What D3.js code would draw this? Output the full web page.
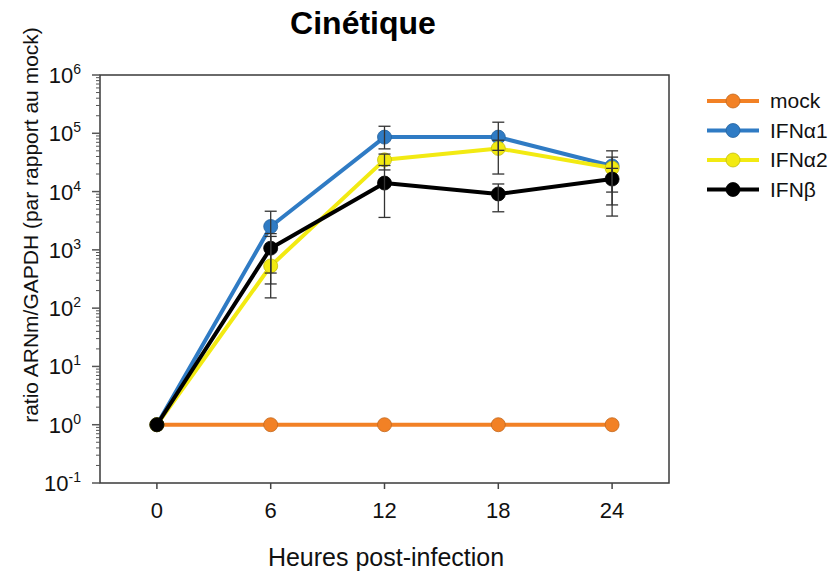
<!DOCTYPE html>
<html>
<head>
<meta charset="utf-8">
<script src="https://cdn.jsdelivr.net/npm/d3@7"></script>
<style>
  body { margin: 0; background: #fff; }
  text { font-family: "Liberation Sans", Arial, sans-serif; }
</style>
</head>
<body>
<div id="chart"></div>
<script>
// Data
const hours = [0, 6, 12, 18, 24];
const seriesNames = ["mock", "IFNα1", "IFNα2", "IFNβ"];
const seriesColors = ["#F28125", "#2F7BC4", "#F2EA12", "#000000"];

const mockValues = [1, 1, 1, 1, 1];
const ifna1Values = [1, 2520, 86000, 86000, 27500];
const ifna2Values = [1, 530, 35000, 55000, 25300];
const ifnbValues = [1, 1070, 14000, 9100, 16400];

// error bar ends (low / high), null where no bar
const ifna1Low = [null, 400, 54000, 51000, 5900];
const ifna1High = [null, 4600, 132000, 155000, 50000];
const ifna2Low = [null, 150, 23500, 20000, 9800];
const ifna2High = [null, 1700, 44000, 76000, 39000];
const ifnbLow = [null, 260, 3600, 4500, 3800];
const ifnbHigh = [null, 1900, 28000, 13500, 25000];

const yTickExps = [-1, 0, 1, 2, 3, 4, 5, 6];

const series = [
    { name: seriesNames[0], color: seriesColors[0], values: mockValues, low: null, high: null },
    { name: seriesNames[1], color: seriesColors[1], values: ifna1Values, low: ifna1Low, high: ifna1High },
    { name: seriesNames[2], color: seriesColors[2], values: ifna2Values, low: ifna2Low, high: ifna2High },
    { name: seriesNames[3], color: seriesColors[3], values: ifnbValues, low: ifnbLow, high: ifnbHigh }
];

const W = 832, H = 575;
const margin = { top: 75, left: 100, right: 163, bottom: 92 };
const width = W - margin.left - margin.right;
const height = H - margin.top - margin.bottom;

const svg = d3.select("#chart").append("svg")
    .attr("width", W)
    .attr("height", H);

const g = svg.append("g")
    .attr("transform", `translate(${margin.left},${margin.top})`);

const x = d3.scaleLinear().domain([-3, 27]).range([0, width]);
const y = d3.scaleLog().domain([0.1, 1e6]).range([height, 0]);

// Title
svg.append("text")
    .attr("x", 363)
    .attr("y", 34)
    .attr("text-anchor", "middle")
    .style("font-size", "32px")
    .style("font-weight", "bold")
    .text("Cinétique");

// Frame
g.append("rect")
    .attr("x", 0).attr("y", 0)
    .attr("width", width).attr("height", height)
    .attr("fill", "none")
    .attr("stroke", "#3a3a3a")
    .attr("stroke-width", 1.5);

// Y axis: major + minor ticks
const minorTicks = [];
for (let e = -1; e < 6; e++) {
    for (let k = 2; k <= 9; k++) minorTicks.push(k * Math.pow(10, e));
}
g.selectAll(".minor").data(minorTicks).enter().append("line")
    .attr("x1", -4).attr("x2", 0)
    .attr("y1", d => y(d)).attr("y2", d => y(d))
    .attr("stroke", "#555").attr("stroke-width", 1);

g.selectAll(".major").data(yTickExps).enter().append("line")
    .attr("x1", -8).attr("x2", 0)
    .attr("y1", d => y(Math.pow(10, d))).attr("y2", d => y(Math.pow(10, d)))
    .attr("stroke", "#555").attr("stroke-width", 1.5);

const yLabels = g.selectAll(".ylab").data(yTickExps).enter().append("text")
    .attr("x", -19)
    .attr("y", d => y(Math.pow(10, d)) + 8)
    .attr("text-anchor", "end")
    .style("font-size", "22px")
    .attr("fill", "#111");
yLabels.append("tspan").text("10");
yLabels.append("tspan")
    .attr("dy", -9)
    .style("font-size", "14px")
    .text(d => d);

// X axis ticks
g.selectAll(".xtick").data(hours).enter().append("line")
    .attr("x1", d => x(d)).attr("x2", d => x(d))
    .attr("y1", height).attr("y2", height + 6)
    .attr("stroke", "#444").attr("stroke-width", 1.5);

g.selectAll(".xlab").data(hours).enter().append("text")
    .attr("x", d => x(d))
    .attr("y", height + 35)
    .attr("text-anchor", "middle")
    .style("font-size", "22px")
    .attr("fill", "#111")
    .text(d => d);

// Axis titles
svg.append("text")
    .attr("x", 386)
    .attr("y", 566)
    .attr("text-anchor", "middle")
    .style("font-size", "25px")
    .attr("fill", "#111")
    .text("Heures post-infection");

svg.append("text")
    .attr("transform", `translate(38, 225) rotate(-90)`)
    .attr("text-anchor", "middle")
    .style("font-size", "21px")
    .attr("fill", "#111")
    .text("ratio ARNm/GAPDH (par rapport au mock)");

// Lines and points
const line = d3.line()
    .x((d, i) => x(hours[i]))
    .y(d => y(d));

series.forEach(s => {
    g.append("path")
        .datum(s.values)
        .attr("d", line)
        .attr("fill", "none")
        .attr("stroke", s.color)
        .attr("stroke-width", 4)
        .attr("stroke-linejoin", "round");

    g.selectAll(null).data(s.values).enter().append("circle")
        .attr("cx", (d, i) => x(hours[i]))
        .attr("cy", d => y(d))
        .attr("r", 7)
        .attr("fill", s.color)
        .attr("stroke", d3.color(s.color).darker(0.6))
        .attr("stroke-width", 0.8);
});

// Error bars
series.filter(s => s.low).forEach(s => {
    const bars = hours.map((h, i) => ({ h, lo: s.low[i], hi: s.high[i] }))
        .filter(d => d.lo !== null);
    const eg = g.append("g").attr("stroke", "#333").attr("stroke-width", 1.3);
    eg.selectAll(".v").data(bars).enter().append("line")
        .attr("x1", d => x(d.h)).attr("x2", d => x(d.h))
        .attr("y1", d => y(d.lo)).attr("y2", d => y(d.hi));
    eg.selectAll(".lo").data(bars).enter().append("line")
        .attr("x1", d => x(d.h) - 6).attr("x2", d => x(d.h) + 6)
        .attr("y1", d => y(d.lo)).attr("y2", d => y(d.lo));
    eg.selectAll(".hi").data(bars).enter().append("line")
        .attr("x1", d => x(d.h) - 6).attr("x2", d => x(d.h) + 6)
        .attr("y1", d => y(d.hi)).attr("y2", d => y(d.hi));
});

// Legend
const legend = svg.append("g").attr("transform", "translate(707, 101)");
series.forEach((s, i) => {
    const row = legend.append("g").attr("transform", `translate(0, ${i * 29.5})`);
    row.append("line")
        .attr("x1", 0).attr("x2", 52)
        .attr("stroke", s.color).attr("stroke-width", 4);
    row.append("circle")
        .attr("cx", 26).attr("r", 7)
        .attr("fill", s.color)
        .attr("stroke", d3.color(s.color).darker(0.6))
        .attr("stroke-width", 0.8);
    row.append("text")
        .attr("x", 63).attr("y", 7)
        .style("font-size", "21px")
        .attr("fill", "#111")
        .text(s.name);
});
</script>
</body>
</html>
